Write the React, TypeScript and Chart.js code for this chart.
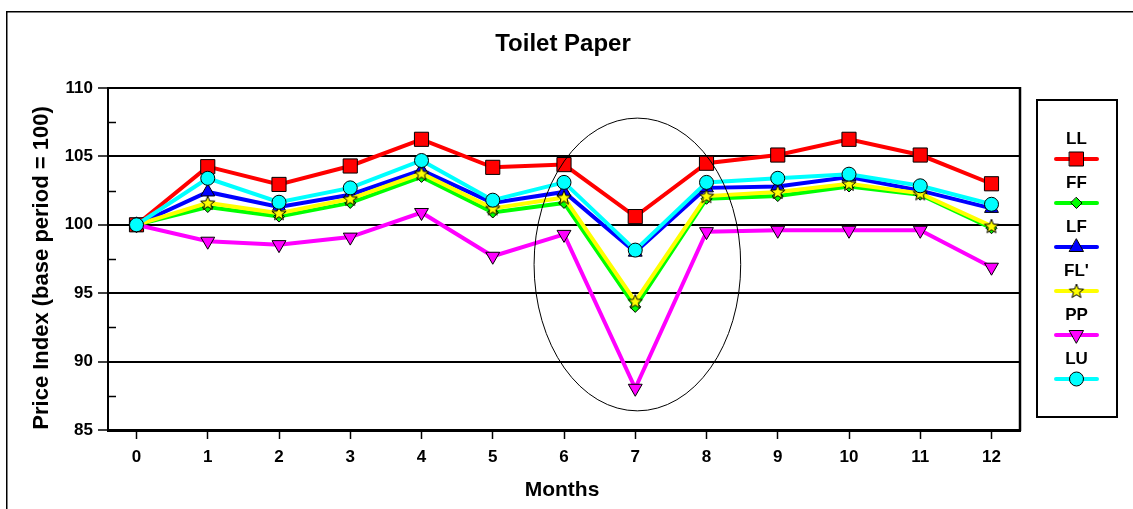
import React, { useEffect, useRef } from "react";
import { Chart, registerables } from "chart.js";

Chart.register(...registerables);

// ---- Data ----
const months = [0, 1, 2, 3, 4, 5, 6, 7, 8, 9, 10, 11, 12];
const seriesNames = ["LL", "FF", "LF", "FL'", "PP", "LU"];
const LL = [100, 104.25, 102.95, 104.3, 106.25, 104.2, 104.4, 100.6, 104.5, 105.1, 106.25, 105.1, 103.0];
const FF = [100, 101.3, 100.6, 101.6, 103.5, 100.9, 101.6, 94.0, 101.9, 102.1, 102.8, 102.2, 99.75];
const LF = [100, 102.4, 101.3, 102.2, 104.0, 101.6, 102.4, 98.0, 102.7, 102.8, 103.5, 102.5, 101.2];
const FLp = [100, 101.6, 100.85, 101.9, 103.75, 101.2, 102.0, 94.4, 102.1, 102.4, 103.0, 102.3, 99.9];
const PP = [100, 98.8, 98.55, 99.1, 100.9, 97.7, 99.3, 88.05, 99.5, 99.6, 99.6, 99.6, 96.9];
const LU = [100, 103.4, 101.65, 102.7, 104.7, 101.8, 103.1, 98.15, 103.1, 103.4, 103.7, 102.85, 101.5];
const yTickValues = [85, 87.5, 90, 92.5, 95, 97.5, 100, 102.5, 105, 107.5, 110];
const xTickValues = months;

// highlighted region (ellipse) in data units
const ellipseCenter = { x: 7.03, y: 97.1 };
const ellipseRadius = { x: 1.45, y: 10.7 };

const colors = ["#ff0000", "#00ff00", "#0000ff", "#ffff00", "#ff00ff", "#00ffff"];
const FONT = "'Liberation Sans', Arial, Helvetica, sans-serif";

function makeStar(): HTMLCanvasElement {
  const c = document.createElement("canvas");
  c.width = 18;
  c.height = 18;
  const g = c.getContext("2d")!;
  const cx = 9, cy = 9.5, R = 7.5, r = 3.2;
  g.beginPath();
  for (let i = 0; i < 10; i++) {
    const rad = (Math.PI / 5) * i - Math.PI / 2;
    const rr = i % 2 === 0 ? R : r;
    const px = cx + Math.cos(rad) * rr;
    const py = cy + Math.sin(rad) * rr;
    if (i === 0) g.moveTo(px, py);
    else g.lineTo(px, py);
  }
  g.closePath();
  g.fillStyle = "#ffff00";
  g.fill();
  g.strokeStyle = "#000";
  g.lineWidth = 1;
  g.stroke();
  return c;
}

function drawMarker(ctx: CanvasRenderingContext2D, kind: string, x: number, y: number, fill: string, star: HTMLCanvasElement) {
  ctx.save();
  ctx.fillStyle = fill;
  ctx.strokeStyle = "#000";
  ctx.lineWidth = 1;
  ctx.beginPath();
  if (kind === "rect") {
    ctx.rect(x - 7, y - 7, 14, 14);
  } else if (kind === "diamond") {
    ctx.moveTo(x, y - 5.5);
    ctx.lineTo(x + 5.5, y);
    ctx.lineTo(x, y + 5.5);
    ctx.lineTo(x - 5.5, y);
    ctx.closePath();
  } else if (kind === "up") {
    ctx.moveTo(x, y - 8);
    ctx.lineTo(x + 7, y + 4.5);
    ctx.lineTo(x - 7, y + 4.5);
    ctx.closePath();
  } else if (kind === "down") {
    ctx.moveTo(x, y + 8);
    ctx.lineTo(x + 7, y - 4.5);
    ctx.lineTo(x - 7, y - 4.5);
    ctx.closePath();
  } else if (kind === "circle") {
    ctx.arc(x, y, 7, 0, Math.PI * 2);
  }
  if (kind === "star") {
    ctx.drawImage(star, x - star.width / 2, y - star.height / 2);
  } else {
    ctx.fill();
    ctx.stroke();
  }
  ctx.restore();
}

export default function App() {
  const ref = useRef<HTMLCanvasElement | null>(null);

  useEffect(() => {
    document.body.style.margin = "0";
    const canvas = ref.current!;
    const star = makeStar();
    const seriesValues = [LL, FF, LF, FLp, PP, LU];
    const kinds = ["rect", "diamond", "up", "star", "down", "circle"];
    const pointStyles: any[] = ["rect", "rectRot", "triangle", star, "triangle", "circle"];
    const radii = [10, 5.5, 8, 8, 8, 7];
    const rotations = [0, 0, 0, 0, 180, 0];

    const datasets = seriesNames.map((name, i) => ({
      label: name,
      data: months.map((m, j) => ({ x: m, y: seriesValues[i][j] })),
      borderColor: colors[i],
      backgroundColor: colors[i],
      borderWidth: 4,
      tension: 0,
      pointStyle: pointStyles[i],
      pointRadius: radii[i],
      pointRotation: rotations[i],
      pointBackgroundColor: colors[i],
      pointBorderColor: "#000",
      pointBorderWidth: 1,
      order: seriesNames.length - i,
      clip: false as any,
    }));

    const decor = {
      id: "decor",
      beforeDraw(chart: any) {
        const ctx = chart.ctx as CanvasRenderingContext2D;
        ctx.save();
        ctx.fillStyle = "#fff";
        ctx.fillRect(0, 0, chart.width, chart.height);
        ctx.strokeStyle = "#000";
        ctx.lineWidth = 1.5;
        ctx.strokeRect(6.75, 11.75, 1300, 700);
        ctx.restore();
      },
      beforeDatasetsDraw(chart: any) {
        const ctx = chart.ctx as CanvasRenderingContext2D;
        const a = chart.chartArea;
        const ys = chart.scales.y;
        ctx.save();
        ctx.strokeStyle = "#000";
        ctx.lineWidth = 2.5;
        ctx.beginPath();
        ctx.moveTo(a.right, a.top - 1);
        ctx.lineTo(a.right, a.bottom + 1);
        ctx.stroke();
        ctx.lineWidth = 2;
        ctx.beginPath();
        ctx.moveTo(a.left, a.top);
        ctx.lineTo(a.right, a.top);
        ctx.stroke();
        ctx.lineWidth = 1.5;
        yTickValues.forEach((v) => {
          if (v % 5 !== 0) {
            const py = Math.round(ys.getPixelForValue(v)) + 0.5;
            ctx.beginPath();
            ctx.moveTo(a.left, py);
            ctx.lineTo(a.left + 8, py);
            ctx.stroke();
          }
        });
        ctx.restore();
      },
      afterDatasetsDraw(chart: any) {
        const ctx = chart.ctx as CanvasRenderingContext2D;
        const xs = chart.scales.x;
        const ys = chart.scales.y;
        const cx = xs.getPixelForValue(ellipseCenter.x);
        const cy = ys.getPixelForValue(ellipseCenter.y);
        const rx = Math.abs(xs.getPixelForValue(ellipseCenter.x + ellipseRadius.x) - cx);
        const ry = Math.abs(ys.getPixelForValue(ellipseCenter.y + ellipseRadius.y) - cy);
        ctx.save();
        ctx.strokeStyle = "#000";
        ctx.lineWidth = 1;
        ctx.beginPath();
        ctx.ellipse(cx, cy, rx, ry, 0, 0, Math.PI * 2);
        ctx.stroke();
        ctx.restore();
      },
      afterDraw(chart: any) {
        const ctx = chart.ctx as CanvasRenderingContext2D;
        const a = chart.chartArea;
        const mid = (a.left + a.right) / 2;
        ctx.save();
        ctx.fillStyle = "#000";
        ctx.textAlign = "center";
        ctx.textBaseline = "middle";
        ctx.font = `bold 24px ${FONT}`;
        ctx.fillText("Toilet Paper", mid - 1, 44);
        ctx.font = `bold 21px ${FONT}`;
        ctx.fillText("Months", mid - 2, 490);
        ctx.save();
        ctx.translate(42, 268);
        ctx.rotate(-Math.PI / 2);
        ctx.font = `bold 22px ${FONT}`;
        ctx.fillText("Price Index (base period = 100)", 0, 0);
        ctx.restore();

        ctx.strokeStyle = "#000";
        ctx.lineWidth = 2;
        ctx.strokeRect(1037, 100, 80, 317);
        const lx = 1076.5;
        seriesNames.forEach((name, i) => {
          const labelY = 139 + i * 44;
          const lineY = 159 + i * 44;
          ctx.fillStyle = "#000";
          ctx.font = `bold 17px ${FONT}`;
          ctx.fillText(name, lx, labelY);
          ctx.strokeStyle = colors[i];
          ctx.lineWidth = 4;
          ctx.lineCap = "round";
          ctx.beginPath();
          ctx.moveTo(1056, lineY);
          ctx.lineTo(1097, lineY);
          ctx.stroke();
          drawMarker(ctx, kinds[i], lx, lineY, colors[i], star);
        });
        ctx.restore();
      },
    };

    const chart = new Chart(canvas, {
      type: "line",
      data: { datasets: datasets as any },
      options: {
        animation: false,
        responsive: false,
        devicePixelRatio: 1,
        layout: { padding: { left: 0, right: 113, top: 88, bottom: 0 } },
        plugins: {
          legend: { display: false },
          title: { display: false },
          tooltip: { enabled: false },
        },
        scales: {
          x: {
            type: "linear",
            min: -0.4,
            max: 12.4,
            afterBuildTicks: (scale: any) => {
              scale.ticks = xTickValues.map((v) => ({ value: v }));
            },
            afterFit: (scale: any) => {
              scale.height = 79;
            },
            grid: {
              drawOnChartArea: false,
              drawTicks: true,
              tickLength: 9,
              tickColor: "#000",
              tickWidth: 1.5,
            },
            border: { display: true, color: "#000", width: 3 },
            ticks: {
              color: "#000",
              padding: 8,
              font: { family: FONT, size: 17, weight: "bold" },
              callback: (v: any) => String(v),
              maxRotation: 0,
              autoSkip: false,
            },
          },
          y: {
            type: "linear",
            min: 85,
            max: 110,
            afterBuildTicks: (scale: any) => {
              scale.ticks = yTickValues.map((v) => ({ value: v }));
            },
            afterFit: (scale: any) => {
              scale.width = 108;
            },
            grid: {
              color: (c: any) => (c.tick && c.tick.value % 5 === 0 ? "#000" : "rgba(0,0,0,0)"),
              tickColor: (c: any) => (c.tick && c.tick.value % 5 === 0 ? "#000" : "rgba(0,0,0,0)"),
              lineWidth: 2,
              tickWidth: 1.5,
              tickLength: 10,
              drawTicks: true,
            },
            border: { display: true, color: "#000", width: 2 },
            ticks: {
              color: "#000",
              padding: 5,
              font: { family: FONT, size: 17, weight: "bold" },
              callback: (v: any) => (Number(v) % 5 === 0 ? String(v) : ""),
              autoSkip: false,
            },
          },
        },
      },
      plugins: [decor],
    });

    return () => chart.destroy();
  }, []);

  return (
    <div style={{ position: "fixed", left: 0, top: 0, width: 1133, height: 509, background: "#fff" }}>
      <canvas ref={ref} width={1133} height={509} style={{ display: "block", width: 1133, height: 509 }} />
    </div>
  );
}
